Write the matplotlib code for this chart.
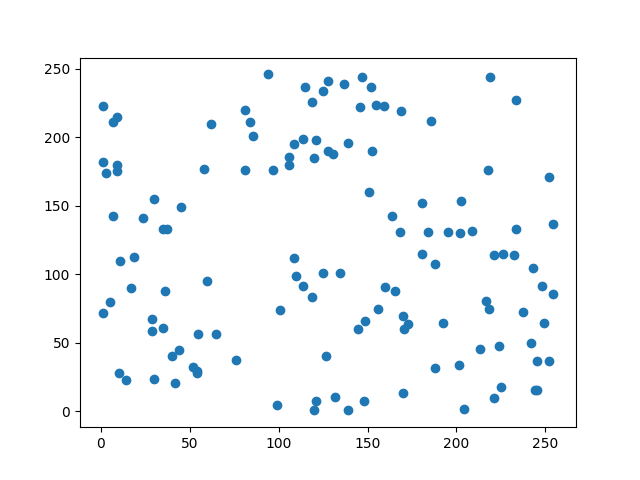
import matplotlib
matplotlib.use("Agg")
import matplotlib.pyplot as plt

# values
x = [1.3, 9.4, 6.9, 62.3, 81.1, 84.0, 85.8, 1.3, 9.4, 3.0, 9.4, 58.2, 81.1,
     30.0, 45.2, 6.8, 23.8, 35.1, 37.3,
     94.2, 115.0, 127.8, 125.2, 118.8, 137.0, 147.1, 152.2, 146.0, 154.8,
     159.0, 169.0, 108.8, 113.9, 121.2, 105.9, 105.9, 120.1, 127.8, 130.4,
     139.2, 152.8, 96.8, 151.1, 163.9, 168.0,
     219.0, 233.7, 185.8, 217.9, 251.9, 180.7, 202.7, 183.8, 195.0, 201.8,
     208.9, 233.7, 254.5,
     10.7, 18.8, 16.9, 36.2, 59.7, 5.1, 1.1, 28.7, 28.7, 35.1, 54.6, 64.8,
     43.9, 40.0, 52.0, 54.4, 54.4, 76.2, 10.3, 14.5, 30.2, 41.8,
     108.8, 110.0, 125.2, 134.8, 113.7, 118.8, 101.0, 159.9, 165.5, 156.0,
     170.0, 148.6, 144.7, 170.6, 172.7, 126.7, 170.0, 99.3, 121.2, 120.1,
     131.9, 139.1, 148.3,
     180.9, 188.1, 220.9, 226.0, 232.2, 242.8, 247.9, 254.1, 216.8, 218.1,
     237.2, 192.6, 249.0, 213.0, 223.7, 241.7, 245.0, 252.0, 188.2, 201.2,
     224.8, 221.1, 244.0, 245.3, 204.0]
y = [222.7, 215.0, 211.0, 209.6, 220.0, 211.0, 201.0, 181.8, 180.0, 174.0,
     175.7, 176.6, 176.0, 154.7, 149.0, 142.3, 140.8, 133.0, 133.0,
     246.0, 236.6, 241.2, 234.0, 225.7, 239.0, 243.9, 236.6, 222.0, 223.7,
     222.7, 219.0, 195.0, 198.8, 197.8, 185.7, 179.8, 184.7, 189.8, 188.1,
     195.7, 189.8, 176.0, 160.0, 142.3, 130.8,
     243.9, 227.3, 212.0, 176.0, 170.8, 152.0, 153.5, 130.8, 130.8, 129.9,
     131.6, 133.0, 136.5,
     109.6, 112.3, 89.7, 87.5, 94.8, 79.5, 71.4, 67.0, 58.3, 60.5, 56.0, 56.0,
     44.4, 40.0, 32.5, 29.5, 28.0, 37.0, 27.8, 22.4, 23.2, 20.2,
     111.6, 98.5, 100.6, 100.6, 91.1, 83.1, 73.6, 90.4, 87.5, 74.3,
     69.2, 65.6, 59.7, 59.7, 63.4, 40.0, 12.9, 4.2, 7.3, 0.5,
     10.0, 0.5, 7.1,
     114.8, 107.2, 113.8, 114.5, 113.8, 104.3, 91.1, 85.3, 80.4, 74.3,
     72.1, 64.1, 64.1, 45.1, 47.5, 49.5, 36.3, 36.3, 31.2, 33.4,
     17.3, 9.3, 15.1, 15.1, 1.2]

fig, ax = plt.subplots(figsize=(6.4, 4.8), dpi=100)
ax.scatter(x, y)
fig.savefig("out.png")
